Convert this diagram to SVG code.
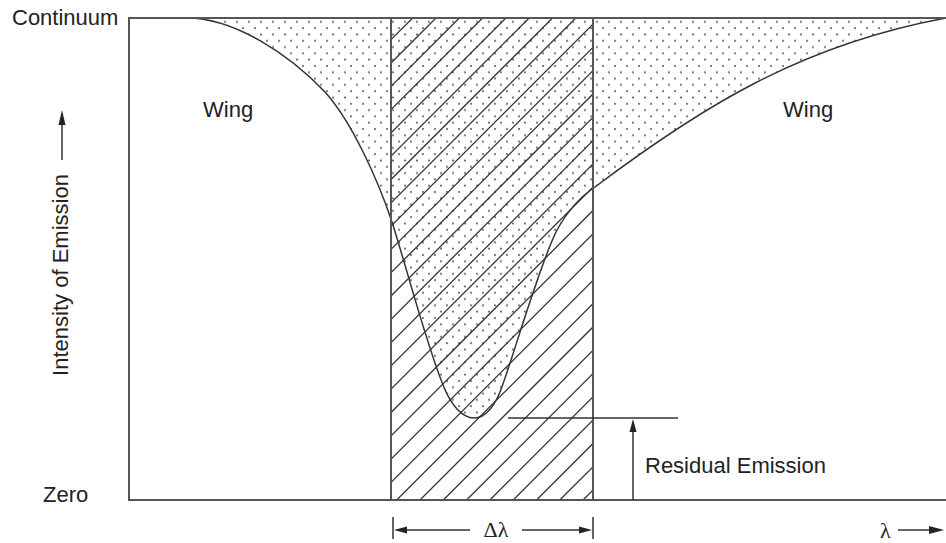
<svg xmlns="http://www.w3.org/2000/svg" width="946" height="543" viewBox="0 0 946 543">
<style>
.t{font-family:"Liberation Sans",Arial,sans-serif;font-size:22px;fill:#222}
.s{font-family:"Liberation Serif","Times New Roman",serif;font-size:22px;fill:#222}
.frame{fill:none;stroke:#555;stroke-width:2}
.ln{fill:none;stroke:#333;stroke-width:1.5}
.hatch{fill:none;stroke:#333;stroke-width:1.3}
.ah{fill:#222}
</style>
<defs>
<pattern id="dots" patternUnits="userSpaceOnUse" width="12" height="12.6">
<circle cx="3" cy="3" r="1.1" fill="#666"/>
<circle cx="9" cy="9.3" r="1.1" fill="#666"/>
</pattern>
<clipPath id="band"><rect x="391" y="18" width="202" height="482"/></clipPath>
</defs>
<rect width="946" height="543" fill="#fff"/>
<g id="absorbed-area">
<path fill="url(#dots)" d="M187,18 C235,18 290,55 325,92 C352,122 378,180 392,222 C405,262 425,340 443,385 C451,405 462,418 474,418 C486,418 495,404.5 500,392 C508,372 520,330 533,293 C540,272 548,248 557,230 C567,212 580,197 595,187 C700,108 800,45 946,18 Z"/>
</g>
<g id="band-hatch" clip-path="url(#band)">
<path class="hatch" d="M-69.3,500L412.7,18M-46,500L436,18M-22.7,500L459.3,18M0.6,500L482.6,18M23.9,500L505.9,18M47.2,500L529.2,18M70.5,500L552.5,18M93.8,500L575.8,18M117.1,500L599.1,18M140.4,500L622.4,18M163.7,500L645.7,18M187,500L669,18M210.3,500L692.3,18M233.6,500L715.6,18M256.9,500L738.9,18M280.2,500L762.2,18M303.5,500L785.5,18M326.8,500L808.8,18M350.1,500L832.1,18M373.4,500L855.4,18M396.7,500L878.7,18M420,500L902,18M443.3,500L925.3,18M466.6,500L948.6,18M489.9,500L971.9,18M513.2,500L995.2,18M536.5,500L1018.5,18M559.8,500L1041.8,18M583.1,500L1065.1,18"/>
</g>
<g id="line-profile">
<path class="ln" d="M187,18 C235,18 290,55 325,92 C352,122 378,180 392,222 C405,262 425,340 443,385 C451,405 462,418 474,418 C486,418 495,404.5 500,392 C508,372 520,330 533,293 C540,272 548,248 557,230 C567,212 580,197 595,187 C700,108 800,45 946,18"/>
</g>
<g id="frame">
<path class="frame" d="M946,18 H129 V500 H946"/>
<path class="frame" d="M391,18 V500 M593,18 V500"/>
</g>
<g id="labels">
<text class="t" x="12" y="25">Continuum</text>
<text class="t" x="43" y="502">Zero</text>
<text class="t" x="203" y="117">Wing</text>
<text class="t" x="783" y="117">Wing</text>
<text class="t" x="645" y="473">Residual Emission</text>
<text class="t" text-anchor="middle" transform="translate(68,275) rotate(-90)">Intensity of Emission</text>
</g>
<g id="connectors">
<path class="ln" d="M62,160 V122"/>
<path class="ah" d="M62,110 L58.5,125 L65.5,125 Z"/>
<path class="ln" d="M508,418 H678"/>
<path class="ln" d="M633,500 V428"/>
<path class="ah" d="M633,419 L629.5,432 L636.5,432 Z"/>
<path class="ln" d="M393,517 V539 M593,517 V539"/>
<path class="ln" d="M400,530 H470 M522,530 H586"/>
<path class="ah" d="M394,530 L407,526.5 L407,533.5 Z"/>
<path class="ah" d="M592,530 L579,526.5 L579,533.5 Z"/>
<path class="ln" d="M898,530 H932"/>
<path class="ah" d="M944,530 L929,526 L929,534 Z"/>
</g>
<g id="axis-symbols">
<text class="s" x="496" y="537" text-anchor="middle">Δλ</text>
<text class="s" x="880" y="538">λ</text>
</g>
</svg>
